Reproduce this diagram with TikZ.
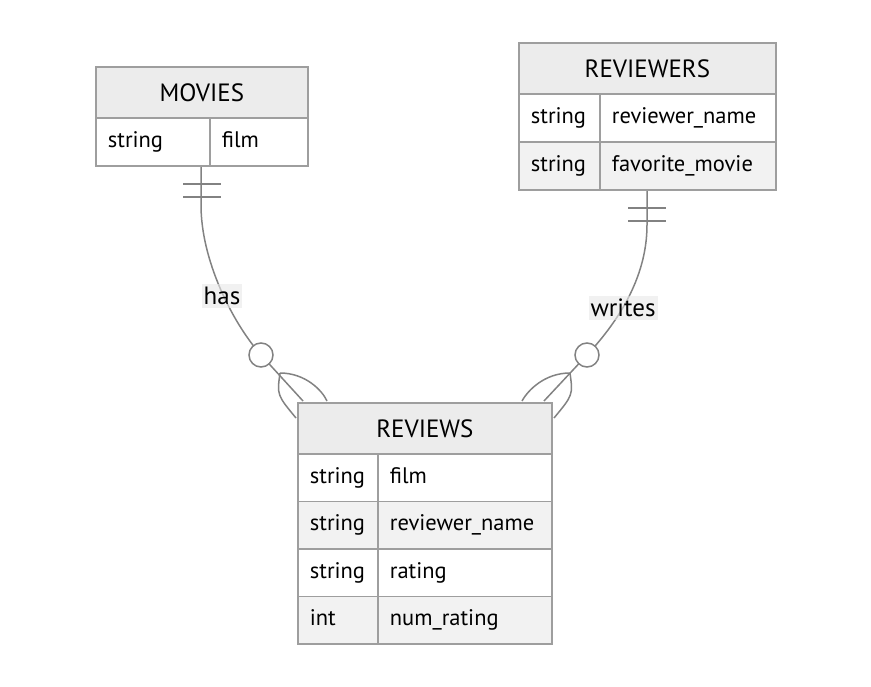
\documentclass[tikz,border=0pt]{standalone}
\usepackage{fontspec}
\setmainfont{PT Sans}
\definecolor{bordc}{RGB}{158,158,158}
\definecolor{hdrc}{RGB}{236,236,236}
\definecolor{rowg}{RGB}{242,242,242}
\definecolor{edgec}{RGB}{130,130,130}
\definecolor{lblc}{RGB}{232,232,232}
\begin{document}
\begin{tikzpicture}[x=1pt,y=-1pt,
  bord/.style={draw=bordc, line width=1.8pt},
  hdr/.style={bord, fill=hdrc, anchor=north west, inner sep=0pt, font=\fontsize{25}{28}\selectfont},
  cellw/.style={bord, fill=white, anchor=north west, inner xsep=12pt, inner ysep=0pt, align=left,
    text height=16pt, text depth=5pt, font=\fontsize{22.5}{26}\selectfont},
  cellg/.style={cellw, fill=rowg},
  edge/.style={draw=edgec, line width=1.5pt},
  ring/.style={circle, draw=edgec, line width=1.5pt, fill=white, minimum size=24pt, inner sep=0pt},
  lbl/.style={fill=lblc, fill opacity=0.6, text opacity=1, inner xsep=2pt, inner ysep=3pt, font=\fontsize{25}{28}\selectfont}
]
\useasboundingbox (0,0) rectangle (871,687);

% ---------- connectors (drawn first, under boxes) ----------
\coordinate (hasStart) at (201,165);
\coordinate (hasBend) at (201,205);
\coordinate (hasRing) at (261,355);
\coordinate (hasApex) at (280,373);
\coordinate (hasTipL) at (296,418);
\coordinate (hasTipM) at (303,401);
\coordinate (hasTipR) at (327,401);
\draw[edge] (hasStart) -- (hasBend) .. controls (201,260) and (232,322) .. (hasRing) -- (hasTipM);
\draw[edge] (hasApex) .. controls (277,395) .. (hasTipL);
\draw[edge] (hasApex) .. controls (305,373) and (322,390) .. (hasTipR);
\draw[edge] (183,184) -- (221,184);
\draw[edge] (183,197) -- (221,197);
\node[ring] (hasCircle) at (hasRing) {};

\coordinate (wrStart) at (647,189);
\coordinate (wrBend) at (647,225);
\coordinate (wrRing) at (587,355);
\coordinate (wrApex) at (570,373);
\coordinate (wrTipR) at (554,418);
\coordinate (wrTipM) at (544,401);
\coordinate (wrTipL) at (522,401);
\draw[edge] (wrStart) -- (wrBend) .. controls (647,280) and (615,325) .. (wrRing) -- (wrTipM);
\draw[edge] (wrApex) .. controls (573,395) .. (wrTipR);
\draw[edge] (wrApex) .. controls (545,373) and (528,390) .. (wrTipL);
\draw[edge] (628,208) -- (666,208);
\draw[edge] (628,221) -- (666,221);
\node[ring] (wrCircle) at (wrRing) {};

% ---------- MOVIES ----------
\node[hdr, minimum width=212pt, minimum height=51pt] (movHead) at (95,66) {MOVIES};
\node[cellw, minimum width=114pt, text width=90pt, minimum height=48pt] (movT1) at (95,117) {string};
\node[cellw, minimum width=98pt, text width=74pt, minimum height=48pt] (movN1) at (209,117) {film};

% ---------- REVIEWERS ----------
\node[hdr, minimum width=257pt, minimum height=51pt] (rvrHead) at (518,42) {REVIEWERS};
\node[cellw, minimum width=81pt, text width=57pt, minimum height=48pt] (rvrT1) at (518,93) {string};
\node[cellw, minimum width=176pt, text width=152pt, minimum height=48pt] (rvrN1) at (599,93) {reviewer\_name};
\node[cellg, minimum width=81pt, text width=57pt, minimum height=48pt] (rvrT2) at (518,141) {string};
\node[cellg, minimum width=176pt, text width=152pt, minimum height=48pt] (rvrN2) at (599,141) {favorite\_movie};

% ---------- REVIEWS ----------
\node[hdr, minimum width=254pt, minimum height=51pt] (revHead) at (297,402) {REVIEWS};
\node[cellw, minimum width=80pt, text width=56pt, minimum height=47.5pt] (revT1) at (297,453) {string};
\node[cellw, minimum width=174pt, text width=150pt, minimum height=47.5pt] (revN1) at (377,453) {film};
\node[cellg, minimum width=80pt, text width=56pt, minimum height=47.5pt] (revT2) at (297,500.5) {string};
\node[cellg, minimum width=174pt, text width=150pt, minimum height=47.5pt] (revN2) at (377,500.5) {reviewer\_name};
\node[cellw, minimum width=80pt, text width=56pt, minimum height=47.5pt] (revT3) at (297,548) {string};
\node[cellw, minimum width=174pt, text width=150pt, minimum height=47.5pt] (revN3) at (377,548) {rating};
\node[cellg, minimum width=80pt, text width=56pt, minimum height=47.5pt] (revT4) at (297,595.5) {int};
\node[cellg, minimum width=174pt, text width=150pt, minimum height=47.5pt] (revN4) at (377,595.5) {num\_rating};

% ---------- labels ----------
\node[lbl] (hasLbl) at (222,296) {has};
\node[lbl] (wrLbl) at (623,308) {writes};
\end{tikzpicture}
\end{document}
